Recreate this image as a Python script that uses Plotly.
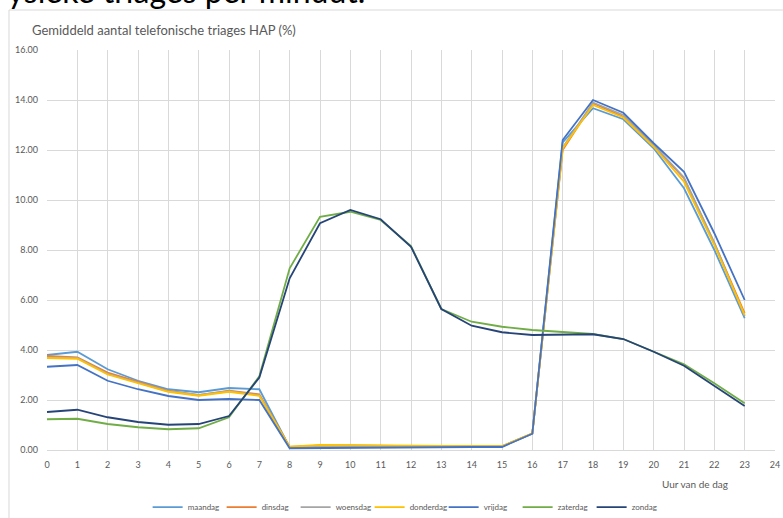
import plotly.graph_objects as go

hours = list(range(24))
series_names = ["maandag", "dinsdag", "woensdag", "donderdag", "vrijdag", "zaterdag", "zondag"]

maandag = [3.80, 3.93, 3.23, 2.77, 2.43, 2.31, 2.48, 2.43,
           0.10, 0.18, 0.18, 0.16, 0.15, 0.14, 0.14, 0.14, 0.65,
           12.30, 13.67, 13.23, 12.07, 10.47, 8.00, 5.27]
dinsdag = [3.76, 3.70, 3.10, 2.73, 2.37, 2.19, 2.37, 2.23,
           0.12, 0.16, 0.17, 0.16, 0.16, 0.15, 0.15, 0.15, 0.66,
           12.00, 13.87, 13.33, 12.16, 10.87, 8.27, 5.47]
woensdag = [3.70, 3.68, 3.05, 2.70, 2.35, 2.20, 2.35, 2.20,
            0.12, 0.15, 0.15, 0.15, 0.15, 0.15, 0.15, 0.15, 0.66,
            12.10, 13.90, 13.40, 12.20, 10.90, 8.30, 5.35]
donderdag = [3.68, 3.65, 3.02, 2.68, 2.33, 2.17, 2.33, 2.17,
             0.13, 0.20, 0.20, 0.18, 0.17, 0.16, 0.15, 0.15, 0.67,
             12.07, 13.80, 13.30, 12.13, 10.73, 8.20, 5.40]
vrijdag = [3.33, 3.40, 2.77, 2.43, 2.16, 2.00, 2.04, 2.00,
           0.07, 0.08, 0.09, 0.11, 0.12, 0.13, 0.12, 0.12, 0.65,
           12.40, 14.00, 13.49, 12.27, 11.13, 8.67, 6.00]
zaterdag = [1.23, 1.25, 1.04, 0.91, 0.83, 0.87, 1.31, 2.95,
            7.27, 9.33, 9.53, 9.20, 8.16, 5.64, 5.13, 4.93, 4.80,
            4.73, 4.64, 4.44, 3.93, 3.43, 2.67, 1.87]
zondag = [1.52, 1.61, 1.31, 1.12, 1.01, 1.04, 1.36, 2.90,
          6.87, 9.07, 9.60, 9.23, 8.13, 5.64, 4.97, 4.71, 4.60,
          4.60, 4.63, 4.44, 3.93, 3.37, 2.57, 1.76]

all_series = [maandag, dinsdag, woensdag, donderdag, vrijdag, zaterdag, zondag]
colors = ["#5B9BD5", "#ED7D31", "#A5A5A5", "#FFC000", "#4472C4", "#70AD47", "#264478"]

x_ticks = list(range(25))
y_ticks = [0, 2, 4, 6, 8, 10, 12, 14, 16]

FONT = "Lato, 'Open Sans', sans-serif"
GRAY = "#595959"

fig = go.Figure()
for name, vals, col in zip(series_names, all_series, colors):
    fig.add_trace(go.Scatter(x=hours, y=vals, mode="lines", name=name,
                             line=dict(color=col, width=1.8)))

fig.update_layout(
    width=783, height=518,
    margin=dict(l=47, r=8, t=50, b=68, autoexpand=False),
    paper_bgcolor="white", plot_bgcolor="white",
    font=dict(family=FONT, color=GRAY, size=9),
    showlegend=True,
    legend=dict(orientation="h", x=0.494, xanchor="center", y=-0.143, yanchor="middle",
                font=dict(size=8, color=GRAY), itemwidth=30, tracegroupgap=0,
                entrywidth=29, entrywidthmode="pixels"),
    xaxis=dict(range=[0, 24], tickvals=x_ticks, ticktext=[str(v) for v in x_ticks],
               showgrid=True, gridcolor="#d9d9d9", gridwidth=1,
               zeroline=False, showline=True, linecolor="#d9d9d9",
               tickfont=dict(size=9, color=GRAY), ticks="", ticklabelstandoff=6,
               automargin=False),
    yaxis=dict(range=[0, 16], tickvals=y_ticks, tickformat=".2f",
               showgrid=True, gridcolor="#d9d9d9", gridwidth=1,
               zeroline=False, showline=False,
               tickfont=dict(size=9, color=GRAY), ticks="", ticklabelstandoff=8,
               automargin=False),
)

# chart border
fig.add_shape(type="rect", xref="paper", yref="paper",
              x0=-0.0522, x1=1.03, y0=-0.2, y1=1.1,
              line=dict(color="#d9d9d9", width=1), fillcolor="rgba(0,0,0,0)", layer="below")

# chart title
fig.add_annotation(text="Gemiddeld aantal telefonische triages HAP (%)",
                   xref="paper", yref="paper", x=-0.023, y=1.05,
                   xanchor="left", yanchor="middle", showarrow=False,
                   font=dict(size=13, color=GRAY, family=FONT))

# x axis title
fig.add_annotation(text="Uur van de dag", xref="paper", yref="paper",
                   x=0.89, y=-0.085, xanchor="center", yanchor="middle", showarrow=False,
                   font=dict(size=10, color=GRAY, family=FONT))

# cut-off document text above the chart
fig.add_annotation(text="Fysieke triages per minuut.", xref="paper", yref="paper",
                   x=0.4396, y=1.094, xanchor="right", yanchor="bottom", showarrow=False,
                   font=dict(size=32, color="#000000", family=FONT))

fig.write_html("out.html", config={"displayModeBar": False},
               post_script="document.body.style.margin='0px';")
